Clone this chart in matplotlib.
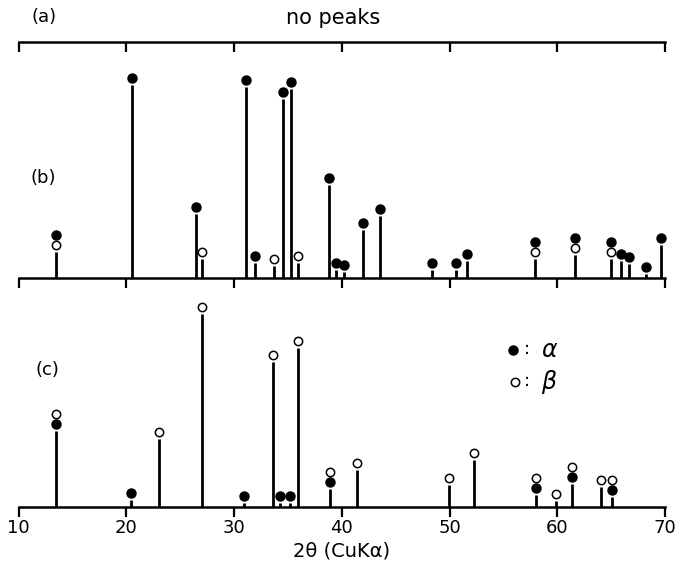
import matplotlib
matplotlib.use("Agg")
import matplotlib.pyplot as plt
from matplotlib.transforms import offset_copy
from matplotlib.lines import Line2D

plt.rcParams['font.family'] = ['DejaVu Sans']

# ---- data ----
x_ticks = [10, 20, 30, 40, 50, 60, 70]

b_pos = [13.5, 20.5, 26.5, 27.0, 31.1, 31.9, 33.7, 34.5, 35.3, 35.9, 38.8, 39.5,
         40.25, 42.0, 43.55, 48.4, 50.6, 51.6, 57.9, 61.65, 65.0, 65.9, 66.7,
         68.2, 69.65]
b_int = [13.5, 100, 33, 10, 99, 8, 6, 93, 98, 8, 48, 4,
         3, 25, 32, 4, 4, 9, 10, 12, 10, 9, 7,
         2, 17]
b_phase = ["ba", "a", "a", "b", "a", "a", "b", "a", "a", "b", "a", "a",
           "a", "a", "a", "a", "a", "a", "ba", "ba", "ba", "a", "a",
           "a", "a"]

c_pos = [13.45, 20.4, 23.05, 27.0, 30.9, 33.65, 34.3, 35.2, 35.9, 38.9, 41.4,
         49.95, 52.25, 58.0, 59.9, 61.35, 64.1, 65.1]
c_int = [39, 3.6, 35, 100, 2, 75, 2, 2, 82, 9, 19,
         11, 24, 6, 3, 12, 10, 5]
c_phase = ["ab", "a", "b", "b", "a", "b", "a", "a", "b", "ab", "b",
           "b", "b", "ab", "b", "ab", "b", "ab"]

W, H = 679, 570
fig = plt.figure(figsize=(W / 100, H / 100), dpi=100)

x0_px, x1_px = 18.6, 665.0
scale = 1.93  # px per intensity unit


def make_ax(bottom_px, top_px):
    ax = fig.add_axes([x0_px / W, 1 - bottom_px / H,
                       (x1_px - x0_px) / W, (bottom_px - top_px) / H])
    ax.set_xlim(10, 70)
    ax.set_ylim(0, (bottom_px - top_px) / scale)
    for s in ['top', 'left', 'right']:
        ax.spines[s].set_visible(False)
    ax.spines['bottom'].set_linewidth(1.8)
    ax.set_yticks([])
    ax.set_xticks(x_ticks)
    ax.tick_params(axis='x', direction='out', length=7, width=1.6,
                   labelsize=13, pad=2)
    ax.patch.set_visible(False)
    return ax


def draw_peaks(ax, pos, inten, phase):
    ax.vlines(pos, 0, inten, colors='black', linewidth=2.0)
    t1 = offset_copy(ax.transData, fig=fig, x=0, y=7, units='dots')
    t2 = offset_copy(ax.transData, fig=fig, x=0, y=17, units='dots')
    for x, h, ph in zip(pos, inten, phase):
        for k, p in enumerate(ph):
            tr = t1 if k == 0 else t2
            if p == "a":
                ax.plot([x], [h], 'o', ms=6.5, mfc='black', mec='black',
                        transform=tr, clip_on=False)
            else:
                ax.plot([x], [h], 'o', ms=6.0, mfc='white', mec='black',
                        mew=1.1, transform=tr, clip_on=False)


# (a)
ax_a = make_ax(42, 20)
ax_a.tick_params(labelbottom=False)

# (b)
ax_b = make_ax(278, 50)
ax_b.tick_params(labelbottom=False)
draw_peaks(ax_b, b_pos, b_int, b_phase)

# (c)
ax_c = make_ax(506.7, 295)
draw_peaks(ax_c, c_pos, c_int, c_phase)
ax_c.set_xlabel("2θ (CuKα)", fontsize=14, labelpad=3)

# labels
fig.text(44 / W, 1 - 17 / H, "(a)", fontsize=13, ha='center', va='center')
fig.text(333 / W, 1 - 18 / H, "no peaks", fontsize=15, ha='center', va='center')
fig.text(43 / W, 1 - 178 / H, "(b)", fontsize=13, ha='center', va='center')
fig.text(47 / W, 1 - 370 / H, "(c)", fontsize=13, ha='center', va='center')

# legend
fig.add_artist(Line2D([513 / W], [1 - 350 / H], marker='o', ms=6.5,
                      mfc='black', mec='black', transform=fig.transFigure))
fig.add_artist(Line2D([515 / W], [1 - 382 / H], marker='o', ms=6.0,
                      mfc='white', mec='black', mew=1.1, transform=fig.transFigure))
fig.text(527 / W, 1 - 349 / H, ":", fontsize=13, ha='center', va='center')
fig.text(527 / W, 1 - 381 / H, ":", fontsize=13, ha='center', va='center')
fig.text(549 / W, 1 - 350 / H, "α", fontsize=17, ha='center', va='center',
         fontstyle='italic')
fig.text(549 / W, 1 - 382 / H, "β", fontsize=17, ha='center', va='center',
         fontstyle='italic')

fig.savefig("out.png", dpi=100)
